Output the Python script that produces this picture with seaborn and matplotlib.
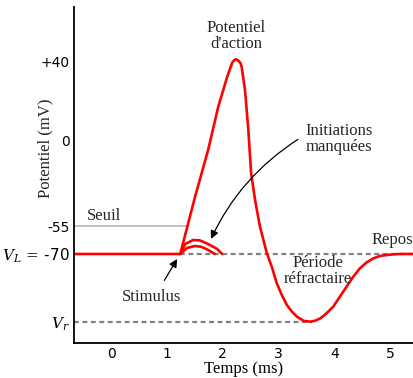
import matplotlib
matplotlib.use("Agg")
import matplotlib.pyplot as plt
import seaborn as sns

# ---- data (schematic action potential) ----
ap_t = [-0.66, 1.24, 1.505, 1.74, 1.92, 2.08, 2.17, 2.20, 2.235, 2.28, 2.32,
        2.34, 2.40, 2.46, 2.51, 2.58, 2.67, 2.79, 2.88, 2.97, 3.06, 3.15,
        3.24, 3.33, 3.45, 3.57, 3.66, 3.75, 3.86, 3.98, 4.10, 4.22, 4.34,
        4.46, 4.58, 4.70, 4.82, 4.94, 5.06, 5.18, 5.42]
ap_v = [-70, -70, -37.3, -10.4, 14.2, 31.4, 39.5, 40.8, 41.6, 40.8, 39.3,
        37.3, 24.0, 1.1, -23.6, -39.0, -54.5, -69.4, -77.3, -86.8, -93.5, -99.2,
        -103.0, -105.9, -108.3, -108.8, -108.2, -106.9, -104.0, -100.2, -94.5, -88.7, -83.0,
        -78.2, -74.8, -72.5, -71.1, -70.6, -70.2, -70.0, -70.0]

miss1_t = [1.24, 1.33, 1.47, 1.59, 1.74, 1.90, 1.99]
miss1_v = [-70, -64.3, -62.0, -62.2, -64.3, -67.1, -70]
miss2_t = [1.24, 1.36, 1.50, 1.62, 1.74, 1.86]
miss2_v = [-70, -66.6, -65.4, -65.9, -67.7, -70]

rest_t = [1.24, 5.42]
rest_v = [-70, -70]
vr_t = [-0.66, 3.60]
vr_v = [-109, -109]
seuil_t = [-0.66, 1.35]
seuil_v = [-54, -54]

xticks = [0, 1, 2, 3, 4, 5]
ytick_pos = [40, -5, -54, -70, -109]
ytick_labels = ["+40", "0", "-55", "$V_L\\,=\\,$-70", "$V_r$"]

# ---- style ----
sns.set_theme(style="white")
plt.rcParams["font.family"] = ["DejaVu Sans"]
plt.rcParams["mathtext.fontset"] = "dejavuserif"
SERIF = ["Liberation Serif", "DejaVu Serif"]
FS = 12

fig = plt.figure(figsize=(4.13, 3.78), dpi=100)
ax = fig.add_axes([74 / 413, 35 / 378, 1 - 74 / 413, 336 / 378])

sns.lineplot(x=seuil_t, y=seuil_v, color="#b0b0b0", lw=1.1, ax=ax,
             estimator=None, sort=False)
sns.lineplot(x=rest_t, y=rest_v, color="#808080", lw=1.6, ax=ax,
             estimator=None, sort=False, linestyle=(0, (2.2, 1.6)))
sns.lineplot(x=vr_t, y=vr_v, color="#808080", lw=1.6, ax=ax,
             estimator=None, sort=False, linestyle=(0, (2.2, 1.6)))
for tt, vv in [(miss1_t, miss1_v), (miss2_t, miss2_v), (ap_t, ap_v)]:
    sns.lineplot(x=tt, y=vv, color="#ff0000", lw=1.9, ax=ax,
                 estimator=None, sort=False)
for ln in ax.get_lines():
    ln.set_solid_joinstyle("round")

ax.set_xlim(-0.663, 5.41)
ax.set_ylim(-121, 71.5)
ax.set_xticks(xticks)
ax.set_xticklabels([str(x) for x in xticks], fontsize=10)
ax.set_yticks(ytick_pos)
ax.set_yticklabels(ytick_labels, fontsize=10)
ax.tick_params(axis="both", length=0, colors="black")
ax.tick_params(axis="x", pad=3)
ax.tick_params(axis="y", pad=3)
for lab in ax.get_yticklabels()[3:]:
    lab.set_fontsize(11)

for s in ["top", "right"]:
    ax.spines[s].set_visible(False)
for s in ["left", "bottom"]:
    ax.spines[s].set_color("black")
    ax.spines[s].set_linewidth(1.3)

ax.set_xlabel("Temps (ms)", family=SERIF, fontsize=FS, labelpad=0, color="black")
ax.text(-0.0855, 0.58, "Potentiel (mV)", transform=ax.transAxes, rotation=90,
        ha="center", va="center", family=SERIF, fontsize=FS)

ax.text(2.24, 54.9, "Potentiel\nd'action", ha="center", va="center",
        family=SERIF, fontsize=FS, linespacing=1.05)
ax.text(4.09, -4.1, "Initiations\nmanquées", ha="center", va="center",
        family=SERIF, fontsize=FS, linespacing=1.05)
ax.annotate("", xy=(1.77, -62.8), xytext=(3.39, -3.5),
            arrowprops=dict(arrowstyle="-|>", color="black", lw=0.9,
                            mutation_scale=12,
                            connectionstyle="arc3,rad=0.15"))
ax.text(0.727, -94.6, "Stimulus", ha="center", va="center",
        family=SERIF, fontsize=FS)
ax.annotate("", xy=(1.21, -71.5), xytext=(0.93, -86.5),
            arrowprops=dict(arrowstyle="-|>", color="black", lw=0.9,
                            mutation_scale=12))
ax.text(-0.43, -48.2, "Seuil", ha="left", va="center", family=SERIF, fontsize=FS)
ax.text(5.04, -62.0, "Repos", ha="center", va="center", family=SERIF, fontsize=FS)
ax.text(3.71, -80, "Période\nréfractaire", ha="center", va="center",
        family=SERIF, fontsize=FS, linespacing=1.0)

fig.savefig("out.png", dpi=100)
